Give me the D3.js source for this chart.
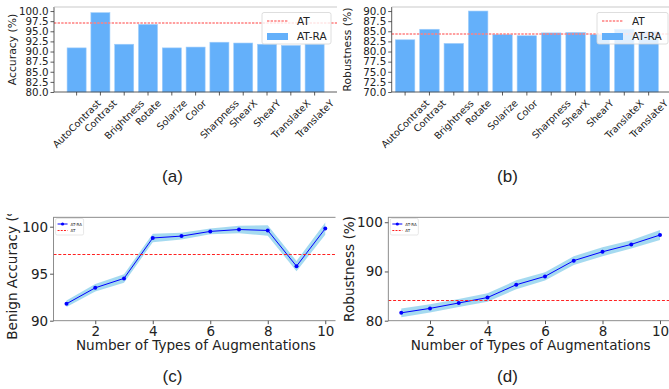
<!DOCTYPE html>
<html>
<head>
<meta charset="utf-8">
<script src="https://cdn.jsdelivr.net/npm/d3@7"></script>
<style>
  body { margin: 0; background: #fff; }
  svg { display: block; }
  text { font-family: "DejaVu Sans", sans-serif; fill: #222; }
  .caption { font-family: "Liberation Sans", Arial, sans-serif; }
</style>
</head>
<body>
<div id="chart"></div>
<script>
// ---- data ----
var augNames = ["AutoContrast", "Contrast", "Brightness", "Rotate", "Solarize", "Color",
  "Sharpness", "ShearX", "ShearY", "TranslateX", "TranslateY"];
var accValues = [90.9, 99.6, 91.8, 96.7, 90.9, 91.1, 92.3, 92.1, 91.8, 91.5, 91.8];
var robValues = [82.9, 85.5, 82.0, 90.0, 84.2, 83.9, 84.6, 84.7, 84.2, 85.5, 84.9];
var atAccBar = 97.1;
var atRobBar = 84.4;
var accBarTicks = [80, 82.5, 85, 87.5, 90, 92.5, 95, 97.5, 100];
var robBarTicks = [70, 72.5, 75, 77.5, 80, 82.5, 85, 87.5, 90];

var numTypes = [1, 2, 3, 4, 5, 6, 7, 8, 9, 10];
var accMean = [91.8, 93.5, 94.5, 98.8, 99.0, 99.5, 99.7, 99.6, 95.8, 99.8];
var accStd = [0.35, 0.4, 0.45, 0.45, 0.35, 0.3, 0.4, 0.55, 0.55, 0.65];
var robMean = [81.6, 82.5, 83.6, 84.7, 87.3, 89.0, 92.2, 94.0, 95.5, 97.4];
var robStd = [0.9, 0.85, 0.8, 0.85, 0.9, 0.85, 0.9, 0.9, 0.85, 1.0];
var atAccLine = 97.1;
var atRobLine = 84.3;
var numTicks = [2, 4, 6, 8, 10];
var accLineTicks = [90, 95, 100];
var robLineTicks = [80, 90, 100];

var svgWidth = 669;
var svgHeight = 389;

var svg = d3
  .select("#chart")
  .append("svg")
  .attr("width", svgWidth)
  .attr("height", svgHeight);

var defs = svg.append("defs");

function addClip(id, x, y, w, h) {
  defs.append("clipPath").attr("id", id)
    .append("rect").attr("x", x).attr("y", y).attr("width", w).attr("height", h);
  return "url(#" + id + ")";
}

// snap a horizontal line to the pixel grid so thin dashes stay crisp
function crisp(v) {
  return Math.round(v) + 0.5;
}

// bar panels (a) and (b)
function drawBarPanel(opt) {
  var g = svg.append("g");
  if (opt.clip) g.attr("clip-path", opt.clip);

  var x = d3.scaleLinear().domain(opt.xDomain).range([opt.left, opt.right]);
  var y = d3.scaleLinear().domain(opt.yDomain).range([92, 7]);
  var band = 0.8;

  // bars
  g.selectAll("rect.bar")
    .data(opt.values)
    .enter()
    .append("rect")
    .attr("class", "bar")
    .attr("x", (d, i) => x(i - band / 2))
    .attr("width", x(band) - x(0))
    .attr("y", (d) => y(d))
    .attr("height", (d) => y(opt.yDomain[0]) - y(d))
    .attr("fill", "#64b0fa")
    .attr("stroke", "#9fcdfb")
    .attr("stroke-width", 0.6);

  // AT reference line (light red, fine dashes, drawn a bit wide like the original)
  g.append("line")
    .attr("x1", opt.left).attr("x2", opt.right)
    .attr("y1", Math.round(y(opt.at))).attr("y2", Math.round(y(opt.at)))
    .style("stroke", "#ff8080")
    .attr("stroke-width", 1.6)
    .attr("stroke-dasharray", "2.4,1.2");

  // spines
  g.append("line").attr("x1", opt.left).attr("x2", opt.left).attr("y1", 7).attr("y2", 92)
    .attr("stroke", "#333").attr("stroke-width", 0.8);
  g.append("line").attr("x1", opt.left).attr("x2", opt.right).attr("y1", 92).attr("y2", 92)
    .attr("stroke", "#333").attr("stroke-width", 0.8);
  g.append("line").attr("x1", opt.left).attr("x2", opt.right).attr("y1", 7).attr("y2", 7)
    .attr("stroke", "#bbb").attr("stroke-width", 0.8);

  // y axis
  var yAxis = d3.axisLeft(y).tickValues(opt.yTicks).tickFormat(d3.format(".1f"))
    .tickSize(3.5).tickPadding(2);
  var ya = g.append("g").attr("transform", `translate(${opt.left},0)`).call(yAxis);
  ya.select(".domain").remove();
  ya.selectAll("line").attr("stroke", "#333").attr("stroke-width", 0.8);
  ya.selectAll("text").style("font-size", "10.3px").attr("fill", "#222");

  // x ticks
  g.selectAll("line.xt")
    .data(opt.values)
    .enter()
    .append("line")
    .attr("class", "xt")
    .attr("x1", (d, i) => x(i)).attr("x2", (d, i) => x(i))
    .attr("y1", 92).attr("y2", 95.5)
    .attr("stroke", "#333").attr("stroke-width", 0.8);

  // rotated category labels, centred on the tick like matplotlib ha=center
  var fs = 9.6;
  g.selectAll("text.xl")
    .data(augNames)
    .enter()
    .append("text")
    .attr("class", "xl")
    .attr("text-anchor", "middle")
    .attr("dominant-baseline", "central")
    .style("font-size", fs + "px")
    .text((d) => d)
    .attr("transform", function (d, i) {
      var w = this.getComputedTextLength();
      var cy = 98 + (w + fs) * 0.3536;
      return `translate(${x(i)},${cy}) rotate(-45)`;
    });

  // y label
  svg.append("text")
    .attr("transform", `translate(${opt.ylabelX},${49.5}) rotate(-90)`)
    .attr("text-anchor", "middle")
    .style("font-size", "10.8px")
    .text(opt.ylabel);

  // legend
  var lg = g.append("g").attr("transform", `translate(${opt.legX},12.5)`);
  lg.append("rect")
    .attr("width", opt.legW).attr("height", 31.5).attr("rx", 2)
    .attr("fill", "#fff").attr("fill-opacity", 0.8)
    .attr("stroke", "#d6d6d6").attr("stroke-width", 0.8);
  lg.append("line")
    .attr("x1", 5).attr("x2", 26).attr("y1", 8.5).attr("y2", 8.5)
    .style("stroke", "#ff8080")
    .attr("stroke-width", 1.3)
    .attr("stroke-dasharray", "2.4,1.2");
  lg.append("rect")
    .attr("x", 5).attr("y", 20.5).attr("width", 21).attr("height", 7)
    .attr("fill", "#64b0fa");
  lg.append("text").attr("x", 35).attr("y", 12.5).style("font-size", "10.5px").text("AT");
  lg.append("text").attr("x", 35).attr("y", 27.5).style("font-size", "10.5px").text("AT-RA");

  svg.append("text")
    .attr("class", "caption")
    .attr("x", opt.capX).attr("y", 181.5)
    .attr("text-anchor", "middle")
    .style("font-size", "17px")
    .text(opt.caption);
}

// line panels (c) and (d)
function drawLinePanel(opt) {
  var g = svg.append("g");
  if (opt.clip) g.attr("clip-path", opt.clip);

  var x = d3.scaleLinear().domain([0.55, 10.45])
    .range([opt.x1 - 0.45 * 28.75, opt.x1 + 9.45 * 28.75]);
  var y = d3.scaleLinear().domain(opt.yDomain).range([320.7, 217.3]);
  var left = x.range()[0], right = x.range()[1];

  var area = d3.area()
    .x((d, i) => x(numTypes[i]))
    .y0((d, i) => y(opt.mean[i] - opt.std[i]))
    .y1((d, i) => y(opt.mean[i] + opt.std[i]));
  g.append("path")
    .datum(opt.mean)
    .attr("d", area)
    .attr("fill", "#87ceeb")
    .attr("fill-opacity", 0.75);

  var line = d3.line()
    .x((d, i) => x(numTypes[i]))
    .y((d) => y(d));
  g.append("path")
    .datum(opt.mean)
    .attr("d", line)
    .attr("fill", "none")
    .attr("stroke", "#0000ff")
    .attr("stroke-width", 1);

  g.selectAll("circle")
    .data(opt.mean)
    .enter()
    .append("circle")
    .attr("cx", (d, i) => x(numTypes[i]))
    .attr("cy", (d) => y(d))
    .attr("r", 2)
    .attr("fill", "#0000ff");

  g.append("line")
    .attr("x1", left).attr("x2", right)
    .attr("y1", crisp(y(opt.at))).attr("y2", crisp(y(opt.at)))
    .style("stroke", "#ff2020")
    .attr("stroke-width", 1)
    .attr("stroke-dasharray", "3,1.8");

  // frame
  g.append("rect")
    .attr("x", left).attr("y", 217.3)
    .attr("width", right - left).attr("height", 320.7 - 217.3)
    .attr("fill", "none").attr("stroke", "#808080").attr("stroke-width", 0.9);

  var xAxis = d3.axisBottom(x).tickValues(numTicks).tickSize(3.5).tickPadding(2);
  var xa = g.append("g").attr("transform", "translate(0,320.7)").call(xAxis);
  xa.select(".domain").remove();
  xa.selectAll("line").attr("stroke", "#555");
  xa.selectAll("text").style("font-size", "13.5px").attr("fill", "#222");

  var yAxis = d3.axisLeft(y).tickValues(opt.yTicks).tickSize(3.5).tickPadding(2);
  var ya = g.append("g").attr("transform", `translate(${left},0)`).call(yAxis);
  ya.select(".domain").remove();
  ya.selectAll("line").attr("stroke", "#555");
  ya.selectAll("text").style("font-size", "13.5px").attr("fill", "#222");

  g.append("text")
    .attr("x", (left + right) / 2).attr("y", 350)
    .attr("text-anchor", "middle")
    .style("font-size", "13.6px")
    .text("Number of Types of Augmentations");

  g.append("text")
    .attr("transform", `translate(${opt.ylabelX},269) rotate(-90)`)
    .attr("text-anchor", "middle")
    .style("font-size", "13.6px")
    .text(opt.ylabel);

  // small legend
  var lg = g.append("g").attr("transform", `translate(${left + 2},218.5)`);
  lg.append("rect")
    .attr("width", 28).attr("height", 16.5).attr("rx", 1.5)
    .attr("fill", "#fff").attr("fill-opacity", 0.8)
    .attr("stroke", "#d6d6d6").attr("stroke-width", 0.6);
  lg.append("line").attr("x1", 2).attr("x2", 12).attr("y1", 5.5).attr("y2", 5.5)
    .attr("stroke", "#0000ff").attr("stroke-width", 1);
  lg.append("circle").attr("cx", 7).attr("cy", 5.5).attr("r", 1.6).attr("fill", "#0000ff");
  lg.append("line").attr("x1", 2).attr("x2", 12).attr("y1", 12).attr("y2", 12)
    .style("stroke", "#ff2020").attr("stroke-width", 1).attr("stroke-dasharray", "2,1.2");
  lg.append("text").attr("x", 15).attr("y", 7).style("font-size", "4px").attr("fill", "#555").text("AT-RA");
  lg.append("text").attr("x", 15).attr("y", 13.5).style("font-size", "4px").attr("fill", "#555").text("AT");

  svg.append("text")
    .attr("class", "caption")
    .attr("x", opt.capX).attr("y", 381.5)
    .attr("text-anchor", "middle")
    .style("font-size", "17px")
    .text(opt.caption);
}

drawBarPanel({
  values: accValues, at: atAccBar, yDomain: [80, 101], yTicks: accBarTicks,
  xDomain: [-0.95, 10.94], left: 54, right: 337,
  clip: addClip("clipA", 0, 0, 337, 200),
  ylabel: "Accuracy (%)", ylabelX: 16,
  legX: 262, legW: 69, capX: 172.5, caption: "(a)"
});

drawBarPanel({
  values: robValues, at: atRobBar, yDomain: [70, 91], yTicks: robBarTicks,
  xDomain: [-0.55, 11.0], left: 391.7, right: 673,
  clip: null,
  ylabel: "Robustness (%)", ylabelX: 351,
  legX: 597, legW: 71, capX: 507.5, caption: "(b)"
});

drawLinePanel({
  mean: accMean, std: accStd, at: atAccLine, yDomain: [90, 101], yTicks: accLineTicks,
  x1: 66.5, clip: addClip("clipC", 0, 214, 335.5, 175),
  ylabel: "Benign Accuracy (%)", ylabelX: 17, capX: 172.5, caption: "(c)"
});

drawLinePanel({
  mean: robMean, std: robStd, at: atRobLine, yDomain: [80, 101], yTicks: robLineTicks,
  x1: 401.25, clip: null,
  ylabel: "Robustness (%)", ylabelX: 353.5, capX: 507.5, caption: "(d)"
});
</script>
</body>
</html>
